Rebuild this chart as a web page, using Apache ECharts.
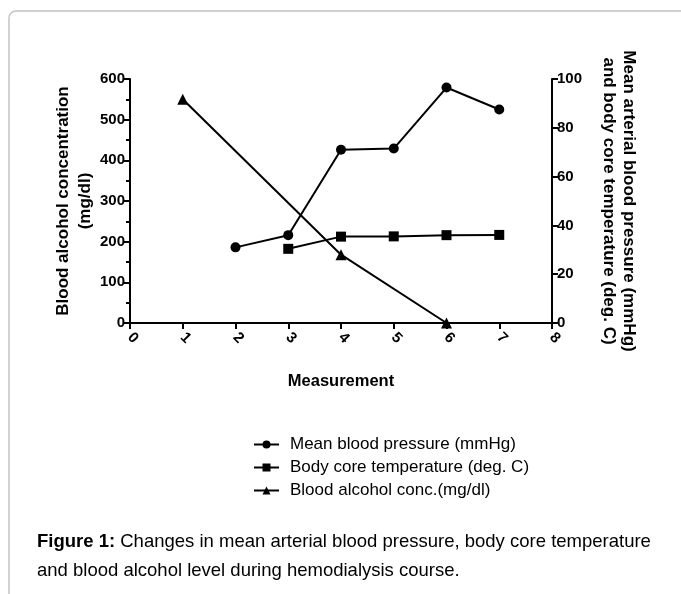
<!DOCTYPE html>
<html>
<head>
<meta charset="utf-8">
<style>
  html, body { margin: 0; padding: 0; background: #fff; }
  #main { width: 681px; height: 594px; }
</style>
<script src="https://cdn.jsdelivr.net/npm/echarts@6.0.0/dist/echarts.min.js"></script>
</head>
<body>
<div id="main"></div>
<script>
// values
var alcoholX = [1, 4, 6];
var alcoholVals = [550, 168, 0];          // mg/dl, left axis
var mapX = [2, 3, 4, 5, 6, 7];
var mapVals = [31, 36, 71, 71.5, 96.5, 87.5]; // mmHg, right axis
var tempX = [3, 4, 5, 6, 7];
var tempVals = [30.4, 35.4, 35.5, 36, 36.1];  // deg C, right axis

var seriesNames = ['Mean blood pressure (mmHg)', 'Body core temperature (deg. C)', 'Blood alcohol conc.(mg/dl)'];

function pairs(xs, ys) {
  return xs.map(function (x, i) { return [x, ys[i]]; });
}

var chart = echarts.init(document.getElementById('main'));
var FONT = 'Liberation Sans, Arial, sans-serif';

var axisCommon = {
  axisLine: { show: true, lineStyle: { color: '#000', width: 2 } },
  axisTick: { show: true, length: 6, lineStyle: { color: '#000', width: 2 } },
  splitLine: { show: false },
  axisLabel: { color: '#000', fontFamily: FONT, fontWeight: 'bold', fontSize: 15 }
};

var option = {
  animation: false,
  backgroundColor: '#fff',
  grid: { left: 130, right: 129, top: 79, bottom: 271 },
  xAxis: Object.assign({}, axisCommon, {
    type: 'value', min: 0, max: 8, interval: 1,
    name: 'Measurement', nameLocation: 'middle', nameGap: 50, nameMoveOverlap: false,
    nameTextStyle: { color: '#000', fontFamily: FONT, fontWeight: 'bold', fontSize: 16.5 },
    axisLabel: Object.assign({}, axisCommon.axisLabel, { rotate: -45, margin: 12 })
  }),
  yAxis: [
    Object.assign({}, axisCommon, {
      type: 'value', min: 0, max: 600, interval: 100, position: 'left',
      name: 'Blood alcohol concentration\n(mg/dl)', nameLocation: 'middle', nameRotate: 90, nameGap: 34,
      nameMoveOverlap: false,
      nameTextStyle: { color: '#000', fontFamily: FONT, fontWeight: 'bold', fontSize: 17, lineHeight: 22, align: 'center' },
      minorTick: { show: true, splitNumber: 2, length: 4, lineStyle: { color: '#000', width: 2 } },
      axisLabel: Object.assign({}, axisCommon.axisLabel, { margin: 5 })
    }),
    Object.assign({}, axisCommon, {
      type: 'value', min: 0, max: 100, interval: 20, position: 'right',
      name: 'Mean arterial blood pressure (mmHg)\nand body core temperature (deg. C)', nameLocation: 'middle', nameRotate: -90, nameGap: 47,
      nameMoveOverlap: false,
      nameTextStyle: { color: '#000', fontFamily: FONT, fontWeight: 'bold', fontSize: 17, lineHeight: 20, align: 'center' },
      axisLabel: Object.assign({}, axisCommon.axisLabel, { margin: 5 })
    })
  ],
  legend: {
    orient: 'vertical', left: 248, top: 431,
    itemWidth: 25, itemHeight: 10, itemGap: 6,
    data: seriesNames,
    textStyle: { color: '#000', fontFamily: FONT, fontSize: 17, padding: [0, 0, 0, 6] }
  },
  series: [
    {
      name: seriesNames[0], type: 'line', yAxisIndex: 1,
      data: pairs(mapX, mapVals),
      symbol: 'circle', symbolSize: 10,
      lineStyle: { color: '#000', width: 2 }, itemStyle: { color: '#000' }
    },
    {
      name: seriesNames[1], type: 'line', yAxisIndex: 1,
      data: pairs(tempX, tempVals),
      symbol: 'rect', symbolSize: 10,
      lineStyle: { color: '#000', width: 2 }, itemStyle: { color: '#000' }
    },
    {
      name: seriesNames[2], type: 'line', yAxisIndex: 0,
      data: pairs(alcoholX, alcoholVals),
      symbol: 'triangle', symbolSize: 11,
      lineStyle: { color: '#000', width: 2 }, itemStyle: { color: '#000' }
    }
  ],
  graphic: [
    {
      type: 'rect', silent: true, z: -1,
      shape: { x: 9, y: 11, width: 720, height: 640, r: 7 },
      style: { fill: 'none', stroke: '#c4c4c4', lineWidth: 1.5 }
    },
    {
      type: 'text', left: 37, top: 527,
      style: {
        text: '{b|Figure 1:} Changes in mean arterial blood pressure, body core temperature\nand blood alcohol level during hemodialysis course.',
        fontFamily: FONT, fontSize: 18.5, lineHeight: 29, fill: '#000',
        rich: { b: { fontWeight: 'bold', fontFamily: FONT, fontSize: 18.5, lineHeight: 29 } }
      }
    }
  ]
};

chart.setOption(option);
</script>
</body>
</html>
